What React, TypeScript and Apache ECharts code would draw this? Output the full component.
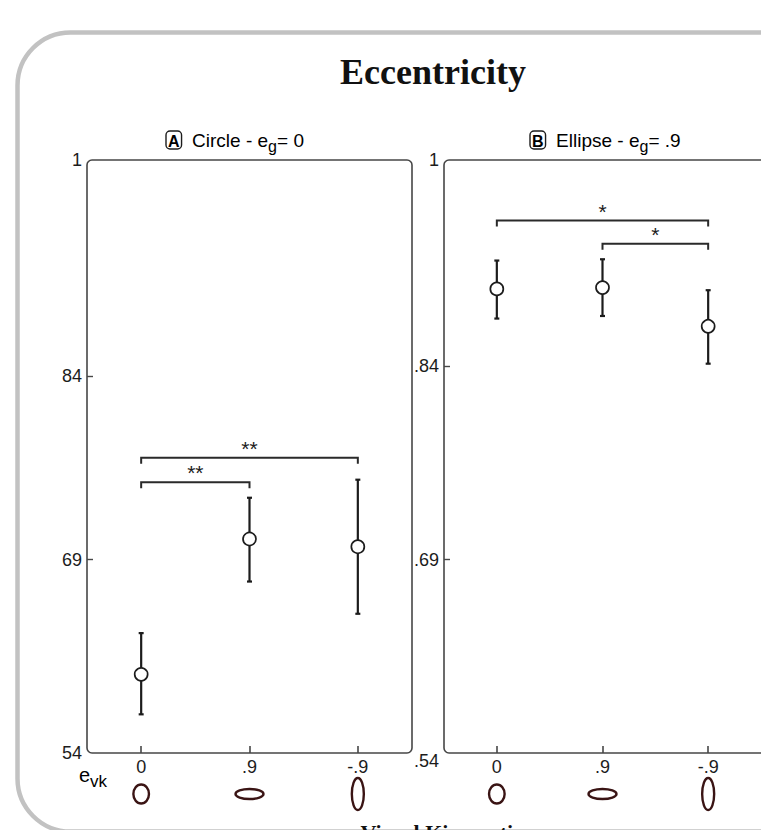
import React, { useEffect, useRef } from "react";
import * as echarts from "echarts";

// ---------- data ----------
const categories = ["0", ".9", "-.9"];

const meanA = [0.601, 0.706, 0.700];
const lowA = [0.570, 0.673, 0.648];
const highA = [0.633, 0.738, 0.752];

const meanB = [0.900, 0.901, 0.871];
const lowB = [0.877, 0.879, 0.842];
const highB = [0.922, 0.923, 0.899];

const yLabelValuesA = [0.54, 0.69, 0.8325, 1];
const yLabelTextsA = ["54", "69", "84", "1"];
const yLabelValuesB = [0.54, 0.69, 0.84, 1];
const yLabelTextsB = [".54", ".69", ".84", "1"];

// [fromIndex, toIndex, y]
const bracketsA = [
  [0, 2, 0.769],
  [0, 1, 0.750],
];
const bracketLabelsA = ["**", "**"];
const bracketsB = [
  [0, 2, 0.953],
  [1, 2, 0.935],
];
const bracketLabelsB = ["*", "*"];

// ---------- styles ----------
const SANS = '"Liberation Sans", Arial, Helvetica, sans-serif';
const SERIF = '"Liberation Serif", "Times New Roman", serif';
const INK = "#1c1c1c";
const FRAME = "#474747";
const ICON = "#3a1414";
const ICON_RADII = [
  [7.8, 9.5],
  [14, 5],
  [6, 16],
];

const GRID_A = { left: 87, top: 160, width: 325, height: 593 };
const GRID_B = { left: 444, top: 160, width: 325, height: 593 };

function labelFor(values: number[], texts: string[], v: number) {
  let best = 0;
  for (let i = 1; i < values.length; i++) {
    if (Math.abs(values[i] - v) < Math.abs(values[best] - v)) best = i;
  }
  return texts[best];
}

function errorSeries(idx: number, lows: number[], highs: number[]) {
  return {
    type: "custom",
    xAxisIndex: idx,
    yAxisIndex: idx,
    clip: false,
    z: 3,
    data: lows.map((l, i) => [i, l, highs[i]]),
    renderItem: (params: any, api: any) => {
      const x = api.value(0);
      const pLo = api.coord([x, api.value(1)]);
      const pHi = api.coord([x, api.value(2)]);
      const cap = 2.5;
      const st = { stroke: INK, lineWidth: 2.2 };
      return {
        type: "group",
        children: [
          { type: "line", shape: { x1: pLo[0], y1: pLo[1], x2: pHi[0], y2: pHi[1] }, style: st },
          { type: "line", shape: { x1: pLo[0] - cap, y1: pLo[1], x2: pLo[0] + cap, y2: pLo[1] }, style: st },
          { type: "line", shape: { x1: pHi[0] - cap, y1: pHi[1], x2: pHi[0] + cap, y2: pHi[1] }, style: st },
        ],
      };
    },
  };
}

function meanSeries(idx: number, means: number[]) {
  return {
    type: "scatter",
    xAxisIndex: idx,
    yAxisIndex: idx,
    z: 4,
    symbol: "circle",
    symbolSize: 13,
    data: means.map((m, i) => [i, m]),
    itemStyle: { color: "#ffffff", borderColor: INK, borderWidth: 1.7, opacity: 1 },
  };
}

function bracketSeries(idx: number, brackets: number[][], labels: string[]) {
  return {
    type: "custom",
    xAxisIndex: idx,
    yAxisIndex: idx,
    clip: false,
    z: 3,
    data: brackets,
    renderItem: (params: any, api: any) => {
      const a = api.coord([api.value(0), api.value(2)]);
      const b = api.coord([api.value(1), api.value(2)]);
      const drop = 6;
      return {
        type: "group",
        children: [
          {
            type: "polyline",
            shape: {
              points: [
                [a[0], a[1] + drop],
                [a[0], a[1]],
                [b[0], b[1]],
                [b[0], b[1] + drop],
              ],
            },
            style: { stroke: "#2a2a2a", lineWidth: 2, fill: "none" },
          },
          {
            type: "text",
            x: (a[0] + b[0]) / 2,
            y: a[1] + 1,
            style: {
              text: labels[params.dataIndex],
              font: `21px ${SANS}`,
              fill: INK,
              align: "center",
              verticalAlign: "bottom",
            },
          },
        ],
      };
    },
  };
}

function iconSeries(idx: number) {
  return {
    type: "custom",
    xAxisIndex: idx,
    yAxisIndex: idx,
    clip: false,
    z: 3,
    data: categories.map((c, i) => [i, 0.54]),
    renderItem: (params: any, api: any) => {
      const p = api.coord([api.value(0), api.value(1)]);
      const r = ICON_RADII[params.dataIndex];
      return {
        type: "ellipse",
        shape: { cx: p[0], cy: p[1] + 41, rx: r[0], ry: r[1] },
        style: { stroke: ICON, lineWidth: 2.4, fill: "none" },
      };
    },
  };
}

function xAxisCfg(idx: number) {
  return {
    gridIndex: idx,
    type: "category",
    data: categories,
    boundaryGap: true,
    axisLine: { show: false },
    splitLine: { show: false },
    axisTick: {
      show: true,
      inside: true,
      alignWithLabel: true,
      length: 7,
      lineStyle: { color: FRAME, width: 1.6 },
    },
    axisLabel: { margin: 5, color: INK, fontSize: 18, fontFamily: SANS },
  };
}

function yAxisCfg(idx: number, values: number[], texts: string[], lowOffset: boolean) {
  return {
    gridIndex: idx,
    type: "value",
    min: 0.54,
    max: 1,
    axisLine: { show: false },
    splitLine: { show: false },
    axisTick: {
      show: true,
      inside: true,
      length: 6,
      customValues: values.slice(1, values.length - 1),
      lineStyle: { color: FRAME, width: 1.4 },
    },
    axisLabel: {
      show: true,
      customValues: values,
      margin: 5,
      color: INK,
      fontSize: 18,
      fontFamily: SANS,
      formatter: (v: number) => {
        const t = labelFor(values, texts, v);
        if (lowOffset && Math.abs(v - 0.54) < 1e-6) return "{low|" + t + "}";
        return t;
      },
      rich: {
        low: { padding: [15, 0, 0, 0], color: INK, fontSize: 18, fontFamily: SANS },
      },
    },
  };
}

export default function App() {
  const ref = useRef<HTMLDivElement>(null);

  useEffect(() => {
    if (!ref.current) return;
    const chart = echarts.init(ref.current, null, { renderer: "svg" });

    const subtitleRich = {
      box: {
        fontWeight: "bold",
        fontSize: 16,
        fontFamily: SANS,
        color: INK,
        borderColor: INK,
        borderWidth: 1.4,
        borderRadius: 4,
        padding: [2, 2, 0, 2],
      },
      t: { fontSize: 19, fontFamily: SANS, color: INK },
      sub: { fontSize: 16, fontFamily: SANS, color: INK, padding: [13, 0, 0, 0] },
    };

    chart.setOption({
      animation: false,
      backgroundColor: "#ffffff",
      grid: [
        { ...GRID_A, containLabel: false },
        { ...GRID_B, containLabel: false },
      ],
      xAxis: [xAxisCfg(0), xAxisCfg(1)],
      yAxis: [
        yAxisCfg(0, yLabelValuesA, yLabelTextsA, false),
        yAxisCfg(1, yLabelValuesB, yLabelTextsB, true),
      ],
      graphic: [
        {
          type: "rect",
          shape: { x: 17.5, y: 32.5, width: 820, height: 799, r: 53 },
          style: { fill: "none", stroke: "#c2c2c2", lineWidth: 4.5 },
          z: 0,
        },
        {
          type: "rect",
          shape: { x: GRID_A.left, y: GRID_A.top, width: GRID_A.width, height: GRID_A.height, r: 5 },
          style: { fill: "none", stroke: FRAME, lineWidth: 1.6 },
          z: 1,
        },
        {
          type: "rect",
          shape: { x: GRID_B.left, y: GRID_B.top, width: GRID_B.width, height: GRID_B.height, r: 5 },
          style: { fill: "none", stroke: FRAME, lineWidth: 1.6 },
          z: 1,
        },
        {
          type: "text",
          x: 433,
          y: 72,
          style: {
            text: "Eccentricity",
            font: `bold 36px ${SERIF}`,
            fill: "#111",
            align: "center",
            verticalAlign: "middle",
          },
        },
        {
          type: "text",
          x: 166,
          y: 140,
          style: {
            text: "{box|A}{t|  Circle - e}{sub|g}{t|= 0}",
            rich: subtitleRich,
            verticalAlign: "middle",
            align: "left",
          },
        },
        {
          type: "text",
          x: 530,
          y: 140,
          style: {
            text: "{box|B}{t|  Ellipse - e}{sub|g}{t|= .9}",
            rich: subtitleRich,
            verticalAlign: "middle",
            align: "left",
          },
        },
        {
          type: "text",
          x: 79,
          y: 775,
          style: {
            text: "{t|e}{sub|vk}",
            rich: {
              t: { fontSize: 20, fontFamily: SANS, color: INK },
              sub: { fontSize: 17, fontFamily: SANS, color: INK, padding: [13, 0, 0, 0] },
            },
            verticalAlign: "middle",
            align: "left",
          },
        },
        {
          type: "text",
          x: 446,
          y: 821,
          style: {
            text: "Visual Kinematics",
            font: `bold 22px ${SERIF}`,
            fill: "#111",
            align: "center",
            verticalAlign: "top",
          },
        },
      ],
      series: [
        errorSeries(0, lowA, highA),
        meanSeries(0, meanA),
        bracketSeries(0, bracketsA, bracketLabelsA),
        iconSeries(0),
        errorSeries(1, lowB, highB),
        meanSeries(1, meanB),
        bracketSeries(1, bracketsB, bracketLabelsB),
        iconSeries(1),
      ],
    });

    return () => chart.dispose();
  }, []);

  return (
    <div
      ref={ref}
      style={{ position: "absolute", left: 0, top: 0, width: 761, height: 830, background: "#fff" }}
    />
  );
}
